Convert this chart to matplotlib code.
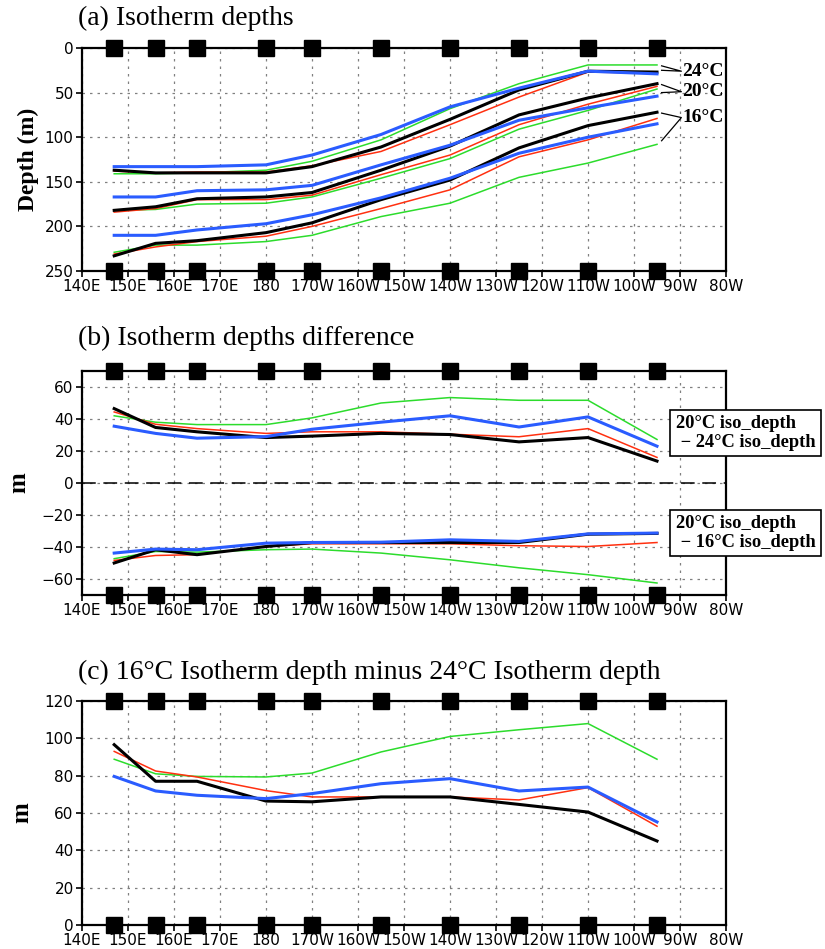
import numpy as np
import matplotlib
matplotlib.use('Agg')
import matplotlib.pyplot as plt

# TAO mooring longitudes (degrees east)
lon = [147, 156, 165, 180, 190, 205, 220, 235, 250, 265]

# (a) isotherm depths (m)
d24_black = [137, 140, 140, 140, 133, 111, 80, 47, 26, 27]
d24_blue = [133, 133, 133, 131, 120, 97, 66, 45, 26, 29]
d24_red = [138, 140, 139, 139, 132, 116, 86, 55, 27, 28]
d24_green = [141, 141, 140, 137, 127, 103, 68, 40, 19, 19]

d20_black = [182, 178, 169, 167, 162, 137, 110, 75, 56, 40]
d20_blue = [167, 167, 160, 159, 154, 131, 109, 81, 67, 54]
d20_red = [184, 180, 170, 170, 165, 142, 120, 86, 63, 43]
d20_green = [182, 181, 175, 174, 167, 146, 124, 91, 70, 46]

d16_black = [233, 219, 216, 207, 196, 170, 148, 112, 87, 72]
d16_blue = [210, 210, 204, 197, 187, 168, 146, 118, 100, 85]
d16_red = [231, 223, 217, 211, 200, 180, 159, 122, 103, 79]
d16_green = [229, 221, 221, 217, 210, 189, 174, 145, 129, 108]

# (b) 20C - 24C and 20C - 16C depth differences (m)
up_black = [46.5, 34.7, 32, 28.4, 29.3, 31, 30.3, 25.7, 28.4, 13.7]
up_red = [44.4, 36.7, 34, 31, 32, 32, 30.5, 28.9, 34, 16]
up_green = [42, 38, 36.5, 36.5, 40.7, 50, 53.4, 51.7, 51.7, 27.2]
up_blue = [35.5, 31, 28, 29, 33.6, 38, 42, 35, 41.3, 23]

lo_black = [-50, -41.7, -44.8, -39.7, -37.2, -37.2, -37.2, -37.2, -32, -31.5]
lo_red = [-48.4, -45.3, -44.8, -39.7, -38, -38, -38, -39.2, -39.7, -37.2]
lo_green = [-47.3, -42.8, -43.2, -41.7, -41.3, -43.8, -48, -53, -57.3, -62.5]
lo_blue = [-43.8, -41.3, -41.7, -37.6, -37.2, -37, -35.5, -36.5, -31.8, -31.3]

# (c) 16C depth minus 24C depth (m)
th_black = [96.6, 77, 77, 66.4, 66, 68.6, 68.6, 64.6, 60.5, 45]
th_red = [93, 82.5, 79.3, 72, 68.6, 68.6, 68.6, 67, 73.6, 52.9]
th_green = [88.8, 81, 79.6, 79.3, 81.4, 92.7, 101, 104.6, 107.9, 88.8]
th_blue = [79.6, 71.8, 69.5, 67.7, 70.4, 75.7, 78.4, 71.8, 73.9, 55.2]

xticks = list(range(140, 281, 10))
xlabels = ['140E', '150E', '160E', '170E', '180', '170W', '160W', '150W',
           '140W', '130W', '120W', '110W', '100W', '90W', '80W']

BLUE = '#2a5cff'
RED = '#ff3010'
GREEN = '#2cdc2c'
tickfont = ['Liberation Sans Narrow', 'DejaVu Sans']
serif = 'Liberation Serif'

fig = plt.figure(figsize=(8.25, 9.49), dpi=100)


def setup(ax, ylim, yticks, ylabels):
    ax.set_xlim(140, 280)
    ax.set_ylim(*ylim)
    ax.set_xticks(xticks)
    ax.set_xticklabels(xlabels, family=tickfont, fontsize=11)
    ax.set_yticks(yticks)
    ax.set_yticklabels(ylabels, family=tickfont, fontsize=11)
    ax.grid(True, color='#808080', linestyle=(0, (2, 4)), linewidth=0.9)
    for s in ax.spines.values():
        s.set_linewidth(1.6)
    ax.tick_params(direction='out', length=4, width=1.2, pad=2)
    # mooring squares on top and bottom frames
    y0, y1 = ax.get_ylim()
    for yy in (y0, y1):
        ax.plot(lon, [yy] * len(lon), 's', color='black', markersize=11,
                clip_on=False, zorder=10)


def draw(ax, series):
    for vals, c, lw in series:
        ax.plot(lon, vals, color=c, linewidth=lw, zorder=3)


# ---- (a)
axa = fig.add_axes([82 / 825, 1 - 271 / 949, 644 / 825, 223 / 949])
for grp in [(d24_green, d24_red, d24_black, d24_blue),
            (d20_green, d20_red, d20_black, d20_blue),
            (d16_green, d16_red, d16_black, d16_blue)]:
    draw(axa, [(grp[0], GREEN, 1.1), (grp[1], RED, 1.1),
               (grp[2], 'black', 2.2), (grp[3], BLUE, 2.2)])
setup(axa, (250, 0), range(0, 251, 50), [str(v) for v in range(0, 251, 50)])
axa.set_ylabel('Depth (m)', family=serif, fontweight='bold', fontsize=17, labelpad=4)

# bracket labels at the eastern end
for grp, ly, txt in [((d24_green, d24_blue), 26, '24°C'),
                     ((d20_black, d20_blue), 49, '20°C'),
                     ((d16_black, d16_green), 78, '16°C')]:
    ends = [g[-1] for g in grp]
    axa.plot([266, 270.3, 266], [min(ends) + 1, ly, max(ends) - 4],
             color='black', linewidth=0.9, zorder=4)
    axa.text(270.5, ly, txt, family=serif, fontweight='bold', fontsize=14,
             va='center', ha='left', zorder=5)

fig.text(78 / 825, 1 - 18 / 949, '(a) Isotherm depths', family=serif,
         fontsize=20, va='center', ha='left')

# ---- (b)
axb = fig.add_axes([82 / 825, 1 - 595 / 949, 644 / 825, 224 / 949])
draw(axb, [(up_green, GREEN, 1.1), (up_red, RED, 1.1),
           (up_black, 'black', 2.2), (up_blue, BLUE, 2.2)])
draw(axb, [(lo_green, GREEN, 1.1), (lo_red, RED, 1.1),
           (lo_black, 'black', 2.2), (lo_blue, BLUE, 2.2)])
axb.axhline(0, color='black', linewidth=1.1, dashes=(9, 5), zorder=2)
setup(axb, (-70, 70), range(-60, 61, 20),
      [str(v).replace('-', '\u2212') for v in range(-60, 61, 20)])
axb.set_ylabel('m', family=serif, fontweight='bold', fontsize=18, labelpad=8)
box = dict(boxstyle='square,pad=0.3', facecolor='white', edgecolor='black', linewidth=1.2)
axb.text(0.922, 0.723, '20°C iso_depth\n \u2212 24°C iso_depth', transform=axb.transAxes,
         family=serif, fontweight='bold', fontsize=13.3, va='center', ha='left',
         bbox=box, zorder=20, clip_on=False, linespacing=1.1)
axb.text(0.922, 0.277, '20°C iso_depth\n \u2212 16°C iso_depth', transform=axb.transAxes,
         family=serif, fontweight='bold', fontsize=13.3, va='center', ha='left',
         bbox=box, zorder=20, clip_on=False, linespacing=1.1)
fig.text(78 / 825, 1 - 338 / 949, '(b) Isotherm depths difference', family=serif,
         fontsize=20, va='center', ha='left')

# ---- (c)
axc = fig.add_axes([82 / 825, 1 - 925 / 949, 644 / 825, 224 / 949])
draw(axc, [(th_green, GREEN, 1.1), (th_red, RED, 1.1),
           (th_black, 'black', 2.2), (th_blue, BLUE, 2.2)])
setup(axc, (0, 120), range(0, 121, 20), [str(v) for v in range(0, 121, 20)])
axc.set_ylabel('m', family=serif, fontweight='bold', fontsize=18, labelpad=8)
fig.text(78 / 825, 1 - 672 / 949, '(c) 16°C Isotherm depth minus 24°C Isotherm depth',
         family=serif, fontsize=20, va='center', ha='left')

fig.savefig('out.png', dpi=100)
